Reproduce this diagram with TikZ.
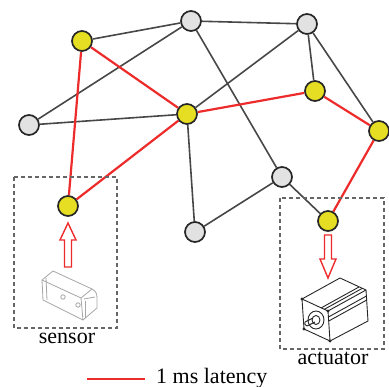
\documentclass[tikz,border=0pt]{standalone}
\usepackage{fontspec}
\setmainfont{Liberation Serif}
\definecolor{nodeyellow}{HTML}{E6DE22}
\definecolor{nodegray}{HTML}{E2E2E2}
\definecolor{linkred}{HTML}{EE2B2B}
\definecolor{linkgray}{HTML}{474747}
\pgfdeclarelayer{links}
\pgfsetlayers{links,main}
\begin{document}
\begin{tikzpicture}[x=1pt,y=-1pt,
  dev/.style={circle,draw=black!85,line width=1.7pt,minimum size=20pt,inner sep=0pt},
  active/.style={dev,fill=nodeyellow},
  idle/.style={dev,fill=nodegray},
  link/.style={linkgray,line width=1.6pt},
  fastlink/.style={linkred,line width=2.2pt},
  zone/.style={draw=black!60,line width=1.3pt,dash pattern=on 4pt off 3pt},
  caption/.style={font=\fontsize{22}{24}\selectfont,inner sep=0pt},
  flow/.style={draw=linkred,fill=white,line width=1.4pt,line join=miter},
  sketch/.style={black!35,line width=0.8pt,line join=round},
  motorline/.style={black!85,line width=0.9pt,line join=round}
]
\useasboundingbox (0,0) rectangle (389,387);

% device zones
\draw[zone] (14,177) rectangle (117,328);
\draw[zone] (280,198) rectangle (384,349);
\node[caption] (sensorlabel) at (67,338) {sensor};
\node[caption] (actlabel) at (333,358) {actuator};

% network nodes
\node[active] (A) at (82,41) {};
\node[idle]   (B) at (191,21) {};
\node[idle]   (C) at (307,24) {};
\node[active] (D) at (315,91) {};
\node[active] (E) at (379,131) {};
\node[active] (F) at (187,114) {};
\node[idle]   (G) at (29,125) {};
\node[idle]   (H) at (282,177) {};
\node[idle]   (I) at (195,232) {};
\node[active] (S) at (68,206) {};
\node[active] (T) at (328,221) {};

% network links, kept behind the nodes
\begin{pgfonlayer}{links}
\draw[link] (A) -- (B);
\draw[link] (B) -- (C);
\draw[link] (B) -- (G);
\draw[link] (G) -- (F);
\draw[link] (B) -- (H);
\draw[link] (C) -- (F);
\draw[link] (C) -- (D);
\draw[link] (C) -- (E);
\draw[link] (F) -- (I);
\draw[link] (I) -- (H);
\draw[link] (H) -- (T);
\draw[fastlink] (A) -- (F);
\draw[fastlink] (A) -- (S);
\draw[fastlink] (S) -- (F);
\draw[fastlink] (F) -- (D);
\draw[fastlink] (D) -- (E);
\draw[fastlink] (E) -- (T);
\end{pgfonlayer}

% hollow flow arrows: sensor -> node, node -> actuator
\coordinate (upTip) at (68,223);
\draw[flow] (upTip) -- ++(8,17) -- ++(-4.5,0) -- ++(0,27) -- ++(-7,0)
  -- ++(0,-27) -- ++(-4.5,0) -- cycle;
\coordinate (downTip) at (328,278);
\draw[flow] (downTip) -- ++(8,-19) -- ++(-4.5,0) -- ++(0,-24) -- ++(-7,0)
  -- ++(0,24) -- ++(-4.5,0) -- cycle;

% sensor sketch
\draw[sketch] (42,280) -- (53,271) -- (92,289) -- (81,298) -- cycle;
\draw[sketch] (46,278) -- (47,300);
\draw[sketch] (42,280) -- (43,300) -- (83,320) -- (81,298);
\draw[sketch] (92,289) .. controls (96,291) and (97,294) .. (97,298) -- (97,308) -- (83,320);
\draw[sketch] (84,299) -- (95,297);
\draw[sketch] (85,318) -- (85,301);
\draw[sketch] (63,297) circle (2.2);
\draw[sketch] (78,305) circle (2.2);

% motor sketch
\coordinate (m1) at (302,299);
\coordinate (m2) at (328,311);
\coordinate (m3) at (330,341);
\coordinate (m4) at (304,329);
\draw[motorline] (m1) -- (m2) -- (m3) -- (m4) -- cycle;
\draw[motorline] (m1) -- ++(38,-21) -- ++(26,12) -- ++(2,31) -- (m3);
\draw[motorline] (m2) -- ++(38,-21);
% grooves along the top edge
\draw[motorline] (321,308) -- ++(38,-21);
\draw[motorline] (324,309.5) -- ++(38,-21);
\draw[motorline] (328.5,317) -- ++(38,-21);
\draw[motorline] (328.8,321) -- ++(38,-21);
% shaft
\draw[motorline] (316,320) ellipse (8 and 9);
\draw[motorline] (316,320) ellipse (4 and 4.5);
\draw[motorline] (313,318) -- (305,322);
\draw[motorline] (315,322) -- (307,326);
\draw[motorline] (305,322) .. controls (304,323) and (305,326) .. (307,326);
\foreach \c in {m1,m2,m3,m4}
  \fill[black!85] (\c) circle (1.6);

% legend
\coordinate (legA) at (87,379);
\coordinate (legB) at (145,379);
\draw[linkred,line width=2.2pt] (legA) -- (legB);
\node[caption,anchor=west] (legtext) at (156,378) {1 ms latency};
\end{tikzpicture}
\end{document}
